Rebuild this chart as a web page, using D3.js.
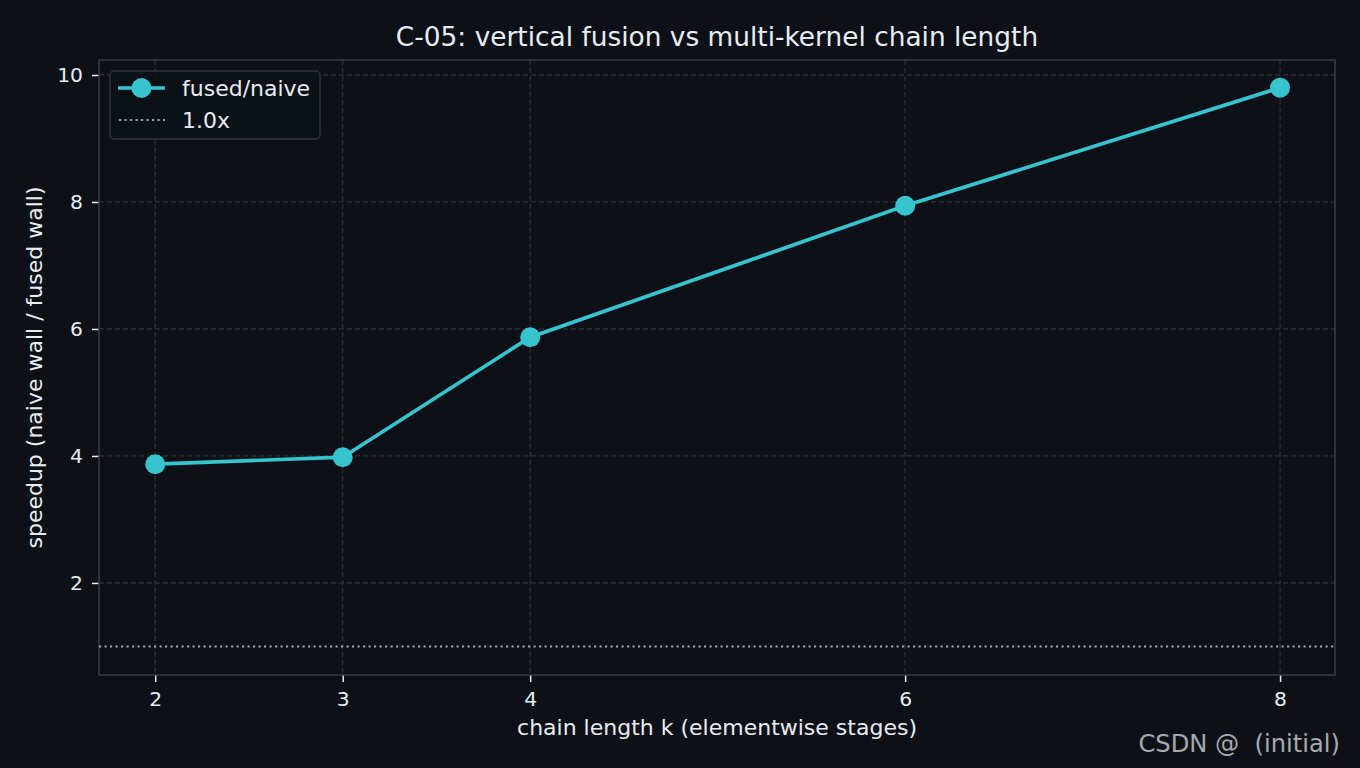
<!DOCTYPE html>
<html>
<head>
<meta charset="utf-8">
<script src="https://cdn.jsdelivr.net/npm/d3@7"></script>
<style>
  body { margin: 0; background: #0d1117; }
  svg { display: block; font-family: "DejaVu Sans", sans-serif; }
</style>
</head>
<body>
<div class="chart-container"></div>
<script>
// data
var chainLength = [2, 3, 4, 6, 8];
var speedup = [3.87, 3.98, 5.87, 7.94, 9.80];
var xTicks = [2, 3, 4, 6, 8];
var yTicks = [2, 4, 6, 8, 10];
var baseline = 1.0;

var W = 1360, H = 768;
var margin = {top: 60, right: 25, bottom: 93, left: 99},
  width = W - margin.left - margin.right,
  height = H - margin.top - margin.bottom;

var x = d3.scaleLinear().domain([1.7, 8.293]).range([0, width]);
var y = d3.scaleLinear().domain([0.55, 10.236]).range([height, 0]);

var svg = d3.select('.chart-container').append('svg')
    .attr('width', W)
    .attr('height', H);

svg.append('rect').attr('width', W).attr('height', H).attr('fill', '#0d1117');

var g = svg.append('g')
    .attr('transform', 'translate(' + margin.left + ',' + margin.top + ')');

// grid
g.append('g').selectAll('line').data(xTicks).enter().append('line')
    .attr('x1', function(d) { return x(d); })
    .attr('x2', function(d) { return x(d); })
    .attr('y1', 0).attr('y2', height)
    .attr('stroke', '#2a2f37').attr('stroke-width', 1.3)
    .attr('stroke-dasharray', '5,3');
g.append('g').selectAll('line').data(yTicks).enter().append('line')
    .attr('y1', function(d) { return y(d); })
    .attr('y2', function(d) { return y(d); })
    .attr('x1', 0).attr('x2', width)
    .attr('stroke', '#2a2f37').attr('stroke-width', 1.3)
    .attr('stroke-dasharray', '5,3');

// axes
var xAxis = d3.axisBottom(x).tickValues(xTicks).tickFormat(d3.format('d')).tickSize(7).tickPadding(10);
var yAxis = d3.axisLeft(y).tickValues(yTicks).tickFormat(d3.format('d')).tickSize(7).tickPadding(9);

var gx = g.append('g')
    .attr('transform', 'translate(0,' + height + ')')
    .call(xAxis);
var gy = g.append('g').call(yAxis);

[gx, gy].forEach(function(a) {
  a.select('.domain').remove();
  a.selectAll('.tick line').attr('stroke', '#e6edf3').attr('stroke-width', 1.5);
  a.selectAll('.tick text').attr('fill', '#e6edf3')
      .style('font-size', '20.3px').style('font-family', '"DejaVu Sans", sans-serif');
});

// frame
g.append('rect')
    .attr('width', width).attr('height', height)
    .attr('fill', 'none').attr('stroke', '#3a3f47').attr('stroke-width', 1.4);

// baseline
g.append('line')
    .attr('x1', 0).attr('x2', width)
    .attr('y1', y(baseline)).attr('y2', y(baseline))
    .attr('stroke', '#9ca3ab').attr('stroke-width', 2)
    .attr('stroke-dasharray', '2.2,3.3');

// series
var pts = chainLength.map(function(k, i) { return {x: k, y: speedup[i]}; });
var color = '#36c4cf';

g.append('path')
    .datum(pts)
    .attr('fill', 'none')
    .attr('stroke', color)
    .attr('stroke-width', 3.7)
    .attr('d', d3.line().x(function(d) { return x(d.x); }).y(function(d) { return y(d.y); }));

g.selectAll('.dot').data(pts).enter().append('circle')
    .attr('class', 'dot')
    .attr('cx', function(d) { return x(d.x); })
    .attr('cy', function(d) { return y(d.y); })
    .attr('r', 10)
    .attr('fill', color);

// legend
var lg = g.append('g').attr('transform', 'translate(11,11)');
lg.append('rect')
    .attr('width', 210).attr('height', 68).attr('rx', 4)
    .attr('fill', '#0d1117').attr('fill-opacity', 0.85)
    .attr('stroke', '#30353d').attr('stroke-width', 1.3);
lg.append('line').attr('x1', 8).attr('x2', 55).attr('y1', 17).attr('y2', 17)
    .attr('stroke', color).attr('stroke-width', 3.7);
lg.append('circle').attr('cx', 31.5).attr('cy', 17).attr('r', 10).attr('fill', color);
lg.append('text').attr('x', 72).attr('y', 17).attr('dy', '0.35em')
    .attr('fill', '#e6edf3').style('font-size', '22px').text('fused/naive');
lg.append('line').attr('x1', 9).attr('x2', 55).attr('y1', 49).attr('y2', 49)
    .attr('stroke', '#9ca3ab').attr('stroke-width', 2)
    .attr('stroke-dasharray', '2.2,3.3');
lg.append('text').attr('x', 72).attr('y', 49).attr('dy', '0.35em')
    .attr('fill', '#e6edf3').style('font-size', '22px').text('1.0x');

// title and labels
svg.append('text')
    .attr('x', margin.left + width / 2).attr('y', 46)
    .attr('text-anchor', 'middle')
    .attr('fill', '#e6edf3').style('font-size', '26.4px')
    .text('C-05: vertical fusion vs multi-kernel chain length');

svg.append('text')
    .attr('x', margin.left + width / 2).attr('y', 735)
    .attr('text-anchor', 'middle')
    .attr('fill', '#e6edf3').style('font-size', '22px')
    .text('chain length k (elementwise stages)');

svg.append('text')
    .attr('transform', 'translate(42,' + (margin.top + height / 2) + ') rotate(-90)')
    .attr('text-anchor', 'middle')
    .attr('fill', '#e6edf3').style('font-size', '22px')
    .text('speedup (naive wall / fused wall)');

// watermark
svg.append('text')
    .attr('x', 1340).attr('y', 752)
    .attr('text-anchor', 'end')
    .attr('fill', '#a6a9ad')
    .style('font-size', '24.2px')
    .style('white-space', 'pre')
    .text('CSDN @  (initial)');
</script>
</body>
</html>
